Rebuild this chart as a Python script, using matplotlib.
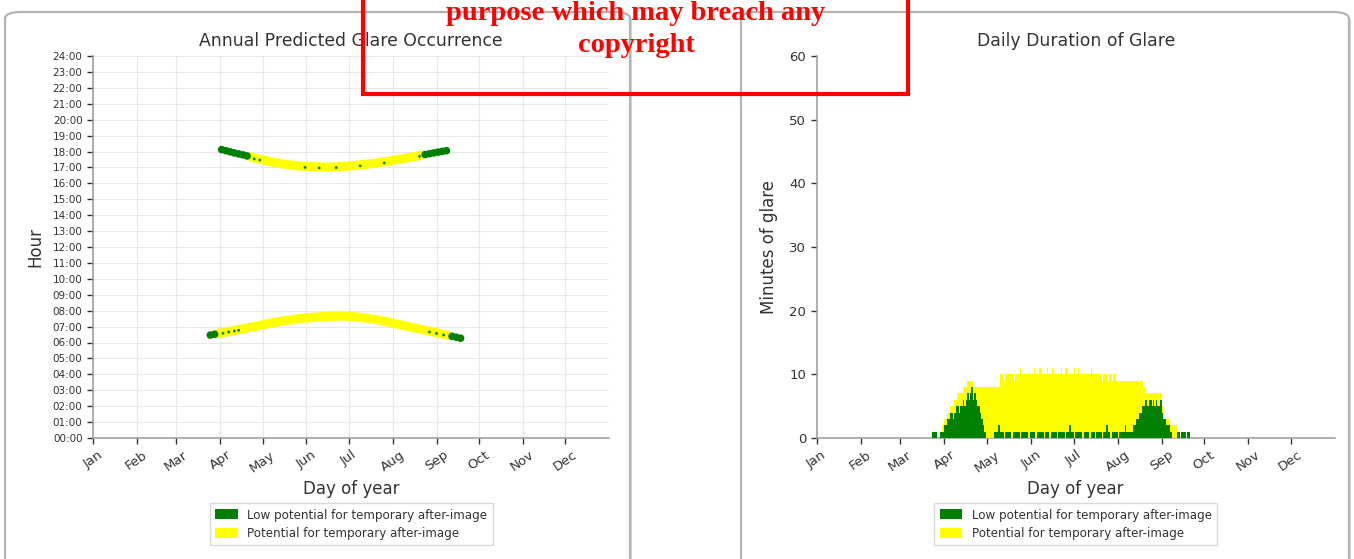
import numpy as np
import matplotlib
matplotlib.use("Agg")
import matplotlib.pyplot as plt
from matplotlib.patches import FancyBboxPatch, Patch
from matplotlib.lines import Line2D

# ---------------- data ----------------
month_starts = [0, 31, 59, 90, 120, 151, 181, 212, 243, 273, 304, 334]
month_labels = ["Jan", "Feb", "Mar", "Apr", "May", "Jun",
                "Jul", "Aug", "Sep", "Oct", "Nov", "Dec"]
hour_ticks = list(range(0, 25))
hour_labels = [f"{h:02d}:00" for h in hour_ticks]

# evening glare (day of year, hour of day)
evening_days = [91, 94, 97, 100, 103, 106, 109, 112, 115, 118, 121, 124, 127,
                130, 133, 136, 139, 142, 145, 148, 151, 154, 157, 160, 163,
                166, 169, 172, 175, 178, 181, 184, 187, 190, 193, 196, 199,
                202, 205, 208, 211, 214, 217, 220, 223, 226, 229, 232, 235,
                238, 241, 244, 247, 250]
evening_hours = [18.12, 18.05, 17.98, 17.91, 17.85, 17.79, 17.72, 17.65, 17.58,
                 17.51, 17.45, 17.39, 17.33, 17.28, 17.23, 17.19, 17.16, 17.13,
                 17.10, 17.08, 17.06, 17.05, 17.04, 17.03, 17.02, 17.02, 17.03,
                 17.04, 17.05, 17.07, 17.09, 17.11, 17.14, 17.17, 17.20, 17.23,
                 17.26, 17.30, 17.34, 17.38, 17.42, 17.47, 17.52, 17.56, 17.61,
                 17.66, 17.71, 17.76, 17.81, 17.86, 17.91, 17.96, 18.01, 18.05]
# 1 = low potential for after-image, 0 = potential for after-image
evening_low = [1, 1, 1, 1, 1, 1, 1, 0, 0, 0, 0, 0, 0, 0, 0, 0, 0, 0, 0, 0, 0,
               0, 0, 0, 0, 0, 0, 0, 0, 0, 0, 0, 0, 0, 0, 0, 0, 0, 0, 0, 0, 0,
               0, 0, 0, 0, 0, 0, 1, 1, 1, 1, 1, 1]

# morning glare
morning_days = [83, 86, 89, 92, 95, 98, 101, 104, 107, 110, 113, 116, 119,
                122, 125, 128, 131, 134, 137, 140, 143, 146, 149, 152, 155,
                158, 161, 164, 167, 170, 173, 176, 179, 182, 185, 188, 191,
                194, 197, 200, 203, 206, 209, 212, 215, 218, 221, 224, 227,
                230, 233, 236, 239, 242, 245, 248, 251, 254, 257, 260]
morning_hours = [6.47, 6.52, 6.57, 6.62, 6.67, 6.72, 6.77, 6.83, 6.88, 6.93,
                 6.99, 7.04, 7.10, 7.15, 7.20, 7.26, 7.31, 7.35, 7.39, 7.43,
                 7.47, 7.50, 7.53, 7.56, 7.58, 7.60, 7.62, 7.63, 7.64, 7.65,
                 7.66, 7.66, 7.66, 7.64, 7.62, 7.59, 7.56, 7.52, 7.48, 7.44,
                 7.39, 7.33, 7.28, 7.22, 7.16, 7.10, 7.04, 6.98, 6.93, 6.87,
                 6.81, 6.75, 6.69, 6.63, 6.57, 6.51, 6.45, 6.39, 6.33, 6.27]
morning_low = [1, 1, 0, 0, 0, 0, 0, 0, 0, 0, 0, 0, 0, 0, 0, 0, 0, 0, 0, 0,
               0, 0, 0, 0, 0, 0, 0, 0, 0, 0, 0, 0, 0, 0, 0, 0, 0, 0, 0, 0,
               0, 0, 0, 0, 0, 0, 0, 0, 0, 0, 0, 0, 0, 0, 0, 0, 0, 1, 1, 1]

# isolated low-potential minutes inside the main band
spot_days = [92, 96, 100, 103, 114, 118, 150, 160, 172, 189, 206, 231,
             238, 243, 248]
spot_hours = [6.58, 6.66, 6.72, 6.77, 17.53, 17.46, 17.00, 16.97, 16.99,
              17.10, 17.28, 17.69, 6.66, 6.57, 6.47]

# daily minutes of glare, days 80..262
bar_first_day = 80
low_minutes = [0, 1, 1, 1, 1, 0, 0, 1, 1, 1,
               2, 2, 3, 3, 4, 4, 3, 4, 5, 5,
               4, 5, 5, 6, 5, 6, 7, 6, 7, 8,
               6, 7, 6, 5, 5, 4, 3, 2, 1, 0,
               0, 0, 0, 0, 0, 1, 1, 1, 2, 1,
               1, 1, 0, 1, 1, 1, 1, 0, 1, 1,
               1, 1, 1, 0, 1, 1, 1, 1, 1, 0,
               1, 1, 1, 1, 0, 1, 1, 1, 1, 1,
               0, 1, 1, 1, 0, 1, 1, 1, 1, 0,
               1, 1, 1, 1, 1, 0, 1, 1, 2, 1,
               1, 0, 1, 1, 1, 1, 1, 0, 1, 1,
               1, 1, 0, 1, 1, 1, 0, 1, 1, 1,
               1, 0, 1, 1, 2, 1, 1, 0, 1, 1,
               1, 1, 0, 1, 1, 1, 1, 2, 1, 1,
               1, 1, 1, 2, 2, 3, 3, 4, 4, 5,
               5, 6, 6, 5, 6, 6, 5, 6, 5, 6,
               5, 5, 6, 4, 3, 3, 2, 2, 2, 1,
               0, 0, 0, 0, 1, 1, 0, 1, 1, 1,
               0, 1, 1]
total_minutes = [0, 1, 1, 1, 1, 0, 0, 1, 2, 2,
                 3, 3, 4, 4, 5, 5, 5, 6, 6, 7,
                 7, 7, 7, 8, 8, 8, 9, 9, 9, 9,
                 8, 8, 8, 8, 8, 8, 8, 8, 8, 8,
                 8, 8, 8, 8, 8, 8, 8, 8, 8, 10,
                 10, 10, 9, 10, 10, 10, 10, 10, 10, 9,
                 10, 10, 10, 11, 10, 10, 10, 10, 10, 10,
                 10, 10, 10, 11, 10, 10, 10, 11, 10, 10,
                 10, 10, 11, 10, 10, 10, 11, 10, 10, 10,
                 10, 10, 11, 10, 10, 11, 11, 10, 10, 10,
                 10, 11, 10, 10, 11, 10, 10, 10, 10, 10,
                 10, 10, 10, 11, 10, 10, 10, 10, 10, 10,
                 10, 9, 10, 10, 10, 9, 10, 10, 9, 10,
                 10, 9, 9, 9, 9, 9, 9, 9, 9, 9,
                 9, 9, 9, 9, 9, 9, 9, 9, 9, 9,
                 8, 7, 7, 7, 7, 7, 7, 7, 7, 7,
                 7, 6, 7, 5, 4, 3, 3, 3, 3, 2,
                 2, 2, 2, 2, 1, 1, 0, 1, 1, 1,
                 0, 1, 1]

legend_labels = ["Low potential for temporary after-image",
                 "Potential for temporary after-image"]

# ---------------- style ----------------
GREEN = "#007f00"
YELLOW = "#ffff00"
TXT = "#333333"
SPINE = "#9a9a9a"

W, H = 1354, 559
plt.rcParams["font.family"] = ["DejaVu Sans"]
fig = plt.figure(figsize=(W / 100, H / 100), dpi=100)
fig.patch.set_facecolor("white")


def fx(px):
    return px / W


def fy(py):
    return 1 - py / H


# card backgrounds, kept beneath the axes
for x0, x1 in [(5, 630), (741, 1349)]:
    shadow = FancyBboxPatch((fx(x0 + 2), fy(575)), fx(x1 - x0), fy(14) - fy(575),
                            boxstyle="round,pad=0,rounding_size=0.012",
                            transform=fig.transFigure, facecolor="#d8d8d8",
                            edgecolor="none", zorder=-3)
    card = FancyBboxPatch((fx(x0), fy(575)), fx(x1 - x0), fy(12) - fy(575),
                          boxstyle="round,pad=0,rounding_size=0.012",
                          transform=fig.transFigure, facecolor="white",
                          edgecolor="#b4b4b4", linewidth=1.6, zorder=-2)
    fig.patches.extend([shadow, card])


def style_axes(ax):
    for s in ["top", "right"]:
        ax.spines[s].set_visible(False)
    for s in ["left", "bottom"]:
        ax.spines[s].set_color(SPINE)
        ax.spines[s].set_linewidth(1.1)
    ax.set_xlim(0, 365)
    ax.set_xticks(month_starts)
    ax.set_xticklabels(month_labels, rotation=35, fontsize=9.5, color=TXT)
    ax.tick_params(axis="both", colors=TXT, length=4, width=1, direction="out")
    ax.set_xlabel("Day of year", fontsize=12, color=TXT, labelpad=4)
    handles = [Patch(facecolor=GREEN, edgecolor="none"),
               Patch(facecolor=YELLOW, edgecolor="none")]
    leg = ax.legend(handles, legend_labels, loc="upper center",
                    bbox_to_anchor=(0.5, -0.155), fontsize=8.6, frameon=True,
                    fancybox=False, edgecolor="#d0d0d0", handlelength=1.9,
                    handleheight=0.9, labelspacing=0.45, borderpad=0.45)
    for t in leg.get_texts():
        t.set_color(TXT)
    ax.set_facecolor("none")


# ---------------- left: annual occurrence ----------------
ax1 = fig.add_axes([fx(93), fy(438), fx(609 - 93), fy(56) - fy(438)])
style_axes(ax1)
ax1.set_ylim(0, 24)
ax1.set_yticks(hour_ticks)
ax1.set_yticklabels(hour_labels, fontsize=7.5, color=TXT)
ax1.grid(True, color="#e8e8e8", linewidth=0.8)
ax1.set_axisbelow(True)
ax1.set_ylabel("Hour", fontsize=12, color=TXT, labelpad=6)
ax1.set_title("Annual Predicted Glare Occurrence", fontsize=12.4, color=TXT,
              pad=7)

for days, hours, low in [(evening_days, evening_hours, evening_low),
                         (morning_days, morning_hours, morning_low)]:
    days = np.asarray(days)
    hours = np.asarray(hours)
    low = np.asarray(low, dtype=bool)
    ax1.scatter(days[~low], hours[~low], s=46, color=YELLOW, edgecolors="none",
                zorder=3)
    ax1.scatter(days[low], hours[low], s=30, color=GREEN, edgecolors="none",
                zorder=4)
ax1.scatter(spot_days, spot_hours, s=4, color=GREEN, edgecolors="none", zorder=5)

# ---------------- right: daily duration ----------------
ax2 = fig.add_axes([fx(816.6), fy(438), fx(1334.8 - 816.6), fy(56) - fy(438)])
style_axes(ax2)
ax2.set_ylim(0, 60)
ax2.set_yticks(range(0, 61, 10))
ax2.tick_params(axis="y", labelsize=9.5)
ax2.set_ylabel("Minutes of glare", fontsize=12, color=TXT, labelpad=8)
ax2.set_title("Daily Duration of Glare", fontsize=12.4, color=TXT, pad=7)

bar_days = bar_first_day + np.arange(len(low_minutes))
low_arr = np.asarray(low_minutes)
high_arr = np.asarray(total_minutes) - low_arr
ax2.bar(bar_days, low_arr, width=1.0, align="edge", color=GREEN, linewidth=0,
        zorder=3)
ax2.bar(bar_days, high_arr, bottom=low_arr, width=1.0, align="edge",
        color=YELLOW, linewidth=0, zorder=3)

# ---------------- notice box (open outline running off the top) ----------------
fig.add_artist(Line2D([fx(363), fx(363), fx(908), fx(908)],
                      [fy(-10), fy(94), fy(94), fy(-10)],
                      transform=fig.transFigure, color="#ff0000",
                      linewidth=3, solid_joinstyle="miter", zorder=10))
fig.text(fx(636), fy(14), "purpose which may breach any", ha="center",
         va="center", fontsize=20.5, color="#ff0000", fontweight="bold",
         family=["Liberation Serif", "DejaVu Serif"], zorder=11)
fig.text(fx(636), fy(45), "copyright", ha="center", va="center", fontsize=20.5,
         color="#ff0000", fontweight="bold",
         family=["Liberation Serif", "DejaVu Serif"], zorder=11)

fig.savefig("out.png", dpi=100, facecolor="white")
